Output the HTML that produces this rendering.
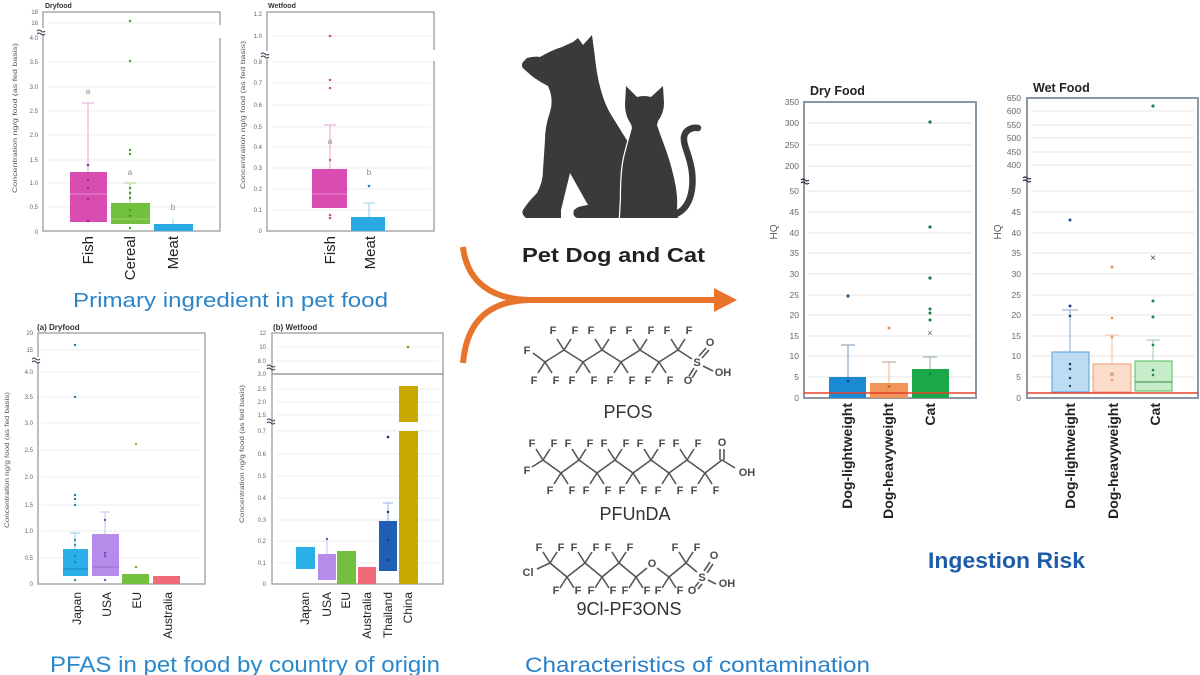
<!DOCTYPE html>
<html><head><meta charset="utf-8"><style>
html,body{margin:0;padding:0;background:#fff;width:1200px;height:675px;overflow:hidden}
svg{display:block}
text{font-family:"Liberation Sans",Arial,sans-serif}
</style></head><body>
<svg width="1200" height="675" viewBox="0 0 1200 675" xmlns="http://www.w3.org/2000/svg">
<rect width="1200" height="675" fill="#fff"/>

<!-- ============ TOP-LEFT: Dryfood ============ -->
<g>
<text x="45" y="8" font-size="7" font-weight="bold" fill="#333">Dryfood</text>
<g stroke="#eeeeee" stroke-width="1">
<line x1="48" y1="23" x2="216" y2="23"/><line x1="48" y1="62" x2="216" y2="62"/><line x1="48" y1="87" x2="216" y2="87"/><line x1="48" y1="111" x2="216" y2="111"/><line x1="48" y1="135" x2="216" y2="135"/><line x1="48" y1="160" x2="216" y2="160"/><line x1="48" y1="183" x2="216" y2="183"/><line x1="48" y1="207" x2="216" y2="207"/>
</g>
<rect x="43" y="12" width="177" height="219" fill="none" stroke="#a9a9a9" stroke-width="1.5"/>
<rect x="40" y="28" width="6" height="6" fill="#fff"/><rect x="217" y="25" width="6" height="13" fill="#fff"/>
<path d="M37,31 q2,-2 4,0 t4,0 M37,34 q2,-2 4,0 t4,0" stroke="#335" stroke-width="1" fill="none"/>
<g font-size="6" fill="#666" text-anchor="end">
<text x="38" y="14">18</text><text x="38" y="25">16</text><text x="38" y="40">4.0</text><text x="38" y="64">3.5</text><text x="38" y="89">3.0</text><text x="38" y="113">2.5</text><text x="38" y="137">2.0</text><text x="38" y="162">1.5</text><text x="38" y="185">1.0</text><text x="38" y="209">0.5</text><text x="38" y="234">0</text>
</g>
<text transform="translate(17,118) rotate(-90)" text-anchor="middle" font-size="6.5" fill="#555" textLength="150" lengthAdjust="spacingAndGlyphs">Concentration ng/g food (as fed basis)</text>
<line x1="88" y1="103" x2="88" y2="172" stroke="#e4a6d2" stroke-width="1"/><line x1="82" y1="103" x2="94" y2="103" stroke="#e4a6d2"/>
<rect x="70" y="172" width="37" height="50" fill="#d94cb2"/>
<line x1="70" y1="194" x2="107" y2="194" stroke="#e88cd0" stroke-width="1"/>
<g fill="#a02c84"><circle cx="88" cy="165" r="1.3"/><circle cx="88" cy="180" r="1.3"/><circle cx="88" cy="188" r="1.3"/><circle cx="88" cy="199" r="1.3"/><circle cx="88" cy="221" r="1.3"/></g>
<text x="88" y="94" font-size="8" fill="#888" text-anchor="middle">a</text>
<line x1="130" y1="183" x2="130" y2="203" stroke="#a6d58a"/><line x1="124" y1="183" x2="136" y2="183" stroke="#a6d58a"/>
<rect x="111" y="203" width="39" height="21" fill="#73bf3e"/>
<line x1="111" y1="219" x2="150" y2="219" stroke="#9ad36e"/>
<g fill="#3d9a2e"><circle cx="130" cy="21" r="1.2"/><circle cx="130" cy="61" r="1.2"/><circle cx="130" cy="150" r="1.2"/><circle cx="130" cy="154" r="1.2"/><circle cx="130" cy="188" r="1.2"/><circle cx="130" cy="193" r="1.2"/><circle cx="130" cy="198" r="1.2"/><circle cx="130" cy="210" r="1.2"/><circle cx="130" cy="216" r="1.2"/><circle cx="130" cy="228" r="1.2"/></g>
<text x="130" y="175" font-size="8" fill="#888" text-anchor="middle">a</text>
<line x1="173" y1="219" x2="173" y2="224" stroke="#8cd0f0"/>
<rect x="154" y="224" width="39" height="7" fill="#2aa8e2"/>
<text x="173" y="210" font-size="8" fill="#888" text-anchor="middle">b</text>
<g font-size="15" fill="#222">
<text transform="translate(93,236) rotate(-90)" text-anchor="end">Fish</text>
<text transform="translate(135,236) rotate(-90)" text-anchor="end">Cereal</text>
<text transform="translate(178,236) rotate(-90)" text-anchor="end">Meat</text>
</g>
</g>

<!-- ============ TOP: Wetfood ============ -->
<g>
<text x="268" y="8" font-size="7" font-weight="bold" fill="#333">Wetfood</text>
<g stroke="#eeeeee" stroke-width="1">
<line x1="272" y1="36" x2="430" y2="36"/><line x1="272" y1="62" x2="430" y2="62"/><line x1="272" y1="83" x2="430" y2="83"/><line x1="272" y1="105" x2="430" y2="105"/><line x1="272" y1="127" x2="430" y2="127"/><line x1="272" y1="147" x2="430" y2="147"/><line x1="272" y1="168" x2="430" y2="168"/><line x1="272" y1="189" x2="430" y2="189"/><line x1="272" y1="210" x2="430" y2="210"/>
</g>
<rect x="267" y="12" width="167" height="219" fill="none" stroke="#a9a9a9" stroke-width="1.5"/>
<rect x="264" y="51" width="6" height="8" fill="#fff"/><rect x="431" y="50" width="6" height="11" fill="#fff"/>
<path d="M261,54 q2,-2 4,0 t4,0 M261,57 q2,-2 4,0 t4,0" stroke="#335" stroke-width="1" fill="none"/>
<g font-size="6" fill="#666" text-anchor="end">
<text x="262" y="16">1.2</text><text x="262" y="38">1.0</text><text x="262" y="64">0.8</text><text x="262" y="85">0.7</text><text x="262" y="107">0.6</text><text x="262" y="129">0.5</text><text x="262" y="149">0.4</text><text x="262" y="170">0.3</text><text x="262" y="191">0.2</text><text x="262" y="212">0.1</text><text x="262" y="233">0</text>
</g>
<text transform="translate(245,115) rotate(-90)" text-anchor="middle" font-size="6.5" fill="#555" textLength="148" lengthAdjust="spacingAndGlyphs">Concentration ng/g food (as fed basis)</text>
<line x1="330" y1="125" x2="330" y2="169" stroke="#e4a6d2"/><line x1="324" y1="125" x2="336" y2="125" stroke="#e4a6d2"/>
<rect x="312" y="169" width="35" height="39" fill="#d94cb2"/>
<line x1="312" y1="194" x2="347" y2="194" stroke="#e88cd0"/>
<g fill="#d04aa6"><circle cx="330" cy="36" r="1.3"/><circle cx="330" cy="80" r="1.3"/><circle cx="330" cy="88" r="1.3"/><circle cx="330" cy="160" r="1.2"/><circle cx="330" cy="215" r="1.3"/><circle cx="330" cy="218" r="1.3"/></g>
<text x="330" y="144" font-size="8" fill="#888" text-anchor="middle">a</text>
<line x1="369" y1="203" x2="369" y2="217" stroke="#8cd0f0"/><line x1="363" y1="203" x2="375" y2="203" stroke="#8cd0f0"/>
<rect x="351" y="217" width="34" height="14" fill="#2aa8e2"/>
<circle cx="369" cy="186" r="1.3" fill="#1a7fb0"/>
<text x="369" y="175" font-size="8" fill="#888" text-anchor="middle">b</text>
<g font-size="15" fill="#222">
<text transform="translate(335,236) rotate(-90)" text-anchor="end">Fish</text>
<text transform="translate(375,236) rotate(-90)" text-anchor="end">Meat</text>
</g>
</g>

<text x="73" y="307" font-size="20" fill="#2d84c6" textLength="315" lengthAdjust="spacingAndGlyphs">Primary ingredient in pet food</text>

<!-- ============ BOTTOM-LEFT (a) Dryfood ============ -->
<g>
<text x="37" y="330" font-size="8" font-weight="bold" fill="#333">(a) Dryfood</text>
<g stroke="#eeeeee" stroke-width="1">
<line x1="42" y1="350" x2="200" y2="350"/><line x1="42" y1="372" x2="200" y2="372"/><line x1="42" y1="397" x2="200" y2="397"/><line x1="42" y1="423" x2="200" y2="423"/><line x1="42" y1="450" x2="200" y2="450"/><line x1="42" y1="477" x2="200" y2="477"/><line x1="42" y1="505" x2="200" y2="505"/><line x1="42" y1="531" x2="200" y2="531"/><line x1="42" y1="558" x2="200" y2="558"/>
</g>
<rect x="38" y="333" width="167" height="251" fill="none" stroke="#a9a9a9" stroke-width="1.5"/>
<rect x="35" y="357" width="6" height="6" fill="#fff"/>
<path d="M32,359 q2,-2 4,0 t4,0 M32,362 q2,-2 4,0 t4,0" stroke="#335" stroke-width="1" fill="none"/>
<g font-size="6" fill="#666" text-anchor="end">
<text x="33" y="335">20</text><text x="33" y="352">15</text><text x="33" y="374">4.0</text><text x="33" y="399">3.5</text><text x="33" y="425">3.0</text><text x="33" y="452">2.5</text><text x="33" y="479">2.0</text><text x="33" y="507">1.5</text><text x="33" y="533">1.0</text><text x="33" y="560">0.5</text><text x="33" y="586">0</text>
</g>
<text transform="translate(9,460) rotate(-90)" text-anchor="middle" font-size="6.5" fill="#555" textLength="136" lengthAdjust="spacingAndGlyphs">Concentration ng/g food (as fed basis)</text>
<line x1="75" y1="533" x2="75" y2="549" stroke="#8cd0f0"/><line x1="70" y1="533" x2="80" y2="533" stroke="#8cd0f0"/>
<rect x="63" y="549" width="25" height="27" fill="#2ab0e8"/>
<line x1="63" y1="569" x2="88" y2="569" stroke="#1b86c0"/>
<g fill="#1a7ab0"><circle cx="75" cy="345" r="1.2"/><circle cx="75" cy="397" r="1.2"/><circle cx="75" cy="495" r="1.2"/><circle cx="75" cy="499" r="1.2"/><circle cx="75" cy="505" r="1.2"/><circle cx="75" cy="540" r="1.1"/><circle cx="75" cy="545" r="1.1"/><circle cx="75" cy="556" r="1.1"/><circle cx="75" cy="562" r="1.1"/><circle cx="75" cy="580" r="1.1"/></g>
<line x1="105" y1="512" x2="105" y2="534" stroke="#d2b8f0"/><line x1="100" y1="512" x2="110" y2="512" stroke="#d2b8f0"/>
<rect x="92" y="534" width="27" height="42" fill="#b68bea"/>
<line x1="92" y1="567" x2="119" y2="567" stroke="#9a6cd4"/>
<g fill="#7a4abc"><circle cx="105" cy="520" r="1.2"/><circle cx="105" cy="553" r="1.3"/><circle cx="105" cy="556" r="1.2"/><circle cx="105" cy="580" r="1.2"/></g>
<rect x="122" y="574" width="27" height="10" fill="#73bf3e"/>
<circle cx="136" cy="444" r="1.2" fill="#8ab828"/><circle cx="136" cy="567" r="1.2" fill="#6aa830"/>
<rect x="153" y="576" width="27" height="8" fill="#f06a7a"/>
<g font-size="12" fill="#222">
<text transform="translate(81,592) rotate(-90)" text-anchor="end">Japan</text>
<text transform="translate(111,592) rotate(-90)" text-anchor="end">USA</text>
<text transform="translate(141,592) rotate(-90)" text-anchor="end">EU</text>
<text transform="translate(172,592) rotate(-90)" text-anchor="end">Australia</text>
</g>
</g>

<!-- ============ BOTTOM (b) Wetfood ============ -->
<g>
<text x="273" y="330" font-size="8" font-weight="bold" fill="#333">(b) Wetfood</text>
<g stroke="#eeeeee" stroke-width="1">
<line x1="276" y1="347" x2="439" y2="347"/><line x1="276" y1="361" x2="439" y2="361"/><line x1="276" y1="389" x2="439" y2="389"/><line x1="276" y1="402" x2="439" y2="402"/><line x1="276" y1="415" x2="439" y2="415"/><line x1="276" y1="431" x2="439" y2="431"/><line x1="276" y1="454" x2="439" y2="454"/><line x1="276" y1="476" x2="439" y2="476"/><line x1="276" y1="498" x2="439" y2="498"/><line x1="276" y1="520" x2="439" y2="520"/><line x1="276" y1="541" x2="439" y2="541"/><line x1="276" y1="563" x2="439" y2="563"/>
</g>
<rect x="272" y="333" width="171" height="251" fill="none" stroke="#a9a9a9" stroke-width="1.5"/>
<line x1="272" y1="374" x2="443" y2="374" stroke="#888" stroke-width="1.2"/>
<path d="M267,366 q2,-2 4,0 t4,0 M267,369 q2,-2 4,0 t4,0 M267,420 q2,-2 4,0 t4,0 M267,423 q2,-2 4,0 t4,0" stroke="#335" stroke-width="1" fill="none"/>
<g font-size="6" fill="#666" text-anchor="end">
<text x="266" y="335">12</text><text x="266" y="349">10</text><text x="266" y="363">8.0</text><text x="266" y="376">3.0</text><text x="266" y="391">2.5</text><text x="266" y="404">2.0</text><text x="266" y="417">1.5</text><text x="266" y="433">0.7</text><text x="266" y="456">0.6</text><text x="266" y="478">0.5</text><text x="266" y="500">0.4</text><text x="266" y="522">0.3</text><text x="266" y="543">0.2</text><text x="266" y="565">0.1</text><text x="266" y="586">0</text>
</g>
<text transform="translate(244,454) rotate(-90)" text-anchor="middle" font-size="6.5" fill="#555" textLength="138" lengthAdjust="spacingAndGlyphs">Concentration ng/g food (as fed basis)</text>
<rect x="296" y="547" width="19" height="22" fill="#2ab0e8"/>
<line x1="327" y1="539" x2="327" y2="554" stroke="#d2b8f0"/>
<rect x="318" y="554" width="18" height="26" fill="#b68bea"/>
<circle cx="327" cy="539" r="1.2" fill="#7a4abc"/>
<rect x="337" y="551" width="19" height="33" fill="#73bf3e"/>
<rect x="358" y="567" width="18" height="17" fill="#f06a7a"/>
<line x1="388" y1="503" x2="388" y2="521" stroke="#90b0e0"/><line x1="383" y1="503" x2="393" y2="503" stroke="#90b0e0"/>
<rect x="379" y="521" width="18" height="50" fill="#1f5fb8"/>
<g fill="#0e2e70"><circle cx="388" cy="437" r="1.3"/><circle cx="388" cy="512" r="1.2"/><circle cx="388" cy="540" r="1"/><circle cx="388" cy="560" r="1"/></g>
<rect x="399" y="386" width="19" height="36" fill="#c9a800"/>
<rect x="399" y="431" width="19" height="153" fill="#c9a800"/>
<circle cx="408" cy="347" r="1.3" fill="#9a8a00"/>
<g font-size="12" fill="#222">
<text transform="translate(309,592) rotate(-90)" text-anchor="end">Japan</text>
<text transform="translate(331,592) rotate(-90)" text-anchor="end">USA</text>
<text transform="translate(350,592) rotate(-90)" text-anchor="end">EU</text>
<text transform="translate(371,592) rotate(-90)" text-anchor="end">Australia</text>
<text transform="translate(392,592) rotate(-90)" text-anchor="end">Thailand</text>
<text transform="translate(412,592) rotate(-90)" text-anchor="end">China</text>
</g>
</g>

<text x="50" y="672" font-size="22" fill="#2a88cc" textLength="390" lengthAdjust="spacingAndGlyphs">PFAS in pet food by country of origin</text>

<!-- ============ CENTER: dog and cat ============ -->
<g fill="#3a3a3a">
<path d="M523,62 L527,58 Q535,56 540,57 Q552,50 562,47 L573,42 L578,38 L583,45 L592,35 L594,50 Q595,58 596,66 Q600,95 610,113 Q618,126 628,142 L632,218 L577,218 Q572,216 574,210 Q578,206 588,205 L570,173 L561,210 L561,218 L526,218 Q521,214 523,210 Q528,202 537,193 Q543,182 543,170 L545,140 Q545,126 550,112 Q554,99 548,86 Q540,82 533,77 L525,70 Q520,66 523,62 Z"/>
<path d="M626,86 L637,97 Q644,95 651,97 L663,86 L664,103 Q664,113 658,121 L657,125 Q660,134 663,142 Q670,160 674,178 Q678,195 677,208 L678,218 L620,218 L621,200 Q621,172 624,158 Q628,142 632,128 L631,124 Q625,116 625,104 Z" stroke="#fff" stroke-width="2.5"/>
<path d="M626,86 L637,97 Q644,95 651,97 L663,86 L664,103 Q664,113 658,121 L657,125 Q660,134 663,142 Q670,160 674,178 Q678,195 677,208 L678,218 L620,218 L621,200 Q621,172 624,158 Q628,142 632,128 L631,124 Q625,116 625,104 Z"/>
<path d="M676,214 C690,208 694,190 692,172 C690,155 683,146 684,137 C685,130 692,127 698,128" fill="none" stroke="#3a3a3a" stroke-width="6.5" stroke-linecap="round"/>
</g>
<text x="522" y="262" font-size="20" font-weight="bold" fill="#222" textLength="183" lengthAdjust="spacingAndGlyphs">Pet Dog and Cat</text>

<!-- arrow -->
<g stroke="#e8742c" stroke-width="6" fill="none">
<path d="M463,247 C467,282 492,300 532,300 L718,300"/>
<path d="M463,363 C467,318 492,300 532,300"/>
</g>
<polygon points="714,288 737,300 714,312" fill="#e8742c"/>

<!-- ============ Molecules ============ -->
<g stroke="#555" stroke-width="1.6" fill="none" stroke-linejoin="round">
<polyline points="533,353 545,362 564,350 583,362 602,350 621,362 640,350 659,362 678,350 692,359"/>
<path d="M564,350 l-7,-11 M564,350 l7,-11 M602,350 l-7,-11 M602,350 l7,-11 M640,350 l-7,-11 M640,350 l7,-11 M678,350 l-7,-11 M678,350 l7,-11"/>
<path d="M545,362 l-7,11 M545,362 l7,11 M583,362 l-7,11 M583,362 l7,11 M621,362 l-7,11 M621,362 l7,11 M659,362 l-7,11 M659,362 l7,11"/>
<path d="M699,356 L706,348 M702,358 L709,350 M694,368 L689,376 M697,370 L692,378 M703,366 L713,371"/>
<polyline points="532,467 543,460 561,473 579,460 597,473 615,460 633,473 651,460 669,473 687,460 705,473 722,460 735,468"/>
<path d="M543,460 l-7,-11 M543,460 l7,-11 M579,460 l-7,-11 M579,460 l7,-11 M615,460 l-7,-11 M615,460 l7,-11 M651,460 l-7,-11 M651,460 l7,-11 M687,460 l-7,-11 M687,460 l7,-11"/>
<path d="M561,473 l-7,11 M561,473 l7,11 M597,473 l-7,11 M597,473 l7,11 M633,473 l-7,11 M633,473 l7,11 M669,473 l-7,11 M669,473 l7,11 M705,473 l-7,11 M705,473 l7,11"/>
<path d="M720,460 L720,449 M724,460 L724,449"/>
<polyline points="537,569 550,563 567,577 585,563 602,577 619,563 636,577 647,568"/>
<polyline points="657,568 669,577 686,563 697,572"/>
<path d="M550,563 l-7,-11 M550,563 l7,-11 M585,563 l-7,-11 M585,563 l7,-11 M619,563 l-7,-11 M619,563 l7,-11 M686,563 l-7,-11 M686,563 l7,-11"/>
<path d="M567,577 l-7,11 M567,577 l7,11 M602,577 l-7,11 M602,577 l7,11 M636,577 l-7,11 M636,577 l7,11 M669,577 l-7,11 M669,577 l7,11"/>
<path d="M704,571 L710,562 M707,573 L713,564 M699,582 L695,587 M702,584 L698,589 M708,580 L716,584"/>
</g>
<g font-size="11" font-weight="bold" fill="#4a4a4a" text-anchor="middle">
<text x="527" y="354">F</text>
<text x="553" y="334">F</text><text x="575" y="334">F</text><text x="591" y="334">F</text><text x="613" y="334">F</text><text x="629" y="334">F</text><text x="651" y="334">F</text><text x="667" y="334">F</text><text x="689" y="334">F</text>
<text x="534" y="384">F</text><text x="556" y="384">F</text><text x="572" y="384">F</text><text x="594" y="384">F</text><text x="610" y="384">F</text><text x="632" y="384">F</text><text x="648" y="384">F</text><text x="670" y="384">F</text>
<text x="697" y="366">S</text><text x="710" y="346">O</text><text x="688" y="384">O</text><text x="723" y="376">OH</text>
<text x="527" y="474">F</text>
<text x="532" y="447">F</text><text x="554" y="447">F</text><text x="568" y="447">F</text><text x="590" y="447">F</text><text x="604" y="447">F</text><text x="626" y="447">F</text><text x="640" y="447">F</text><text x="662" y="447">F</text><text x="676" y="447">F</text><text x="698" y="447">F</text>
<text x="550" y="494">F</text><text x="572" y="494">F</text><text x="586" y="494">F</text><text x="608" y="494">F</text><text x="622" y="494">F</text><text x="644" y="494">F</text><text x="658" y="494">F</text><text x="680" y="494">F</text><text x="694" y="494">F</text><text x="716" y="494">F</text>
<text x="722" y="446">O</text><text x="747" y="476">OH</text>
<text x="528" y="576">Cl</text>
<text x="539" y="551">F</text><text x="561" y="551">F</text><text x="574" y="551">F</text><text x="596" y="551">F</text><text x="608" y="551">F</text><text x="630" y="551">F</text><text x="675" y="551">F</text><text x="697" y="551">F</text>
<text x="556" y="594">F</text><text x="578" y="594">F</text><text x="591" y="594">F</text><text x="613" y="594">F</text><text x="625" y="594">F</text><text x="647" y="594">F</text><text x="658" y="594">F</text><text x="680" y="594">F</text>
<text x="652" y="567">O</text><text x="702" y="581">S</text><text x="714" y="559">O</text><text x="692" y="594">O</text><text x="727" y="587">OH</text>
</g>
<g font-size="18" fill="#333" text-anchor="middle">
<text x="628" y="418">PFOS</text>
<text x="635" y="520">PFUnDA</text>
<text x="629" y="615">9Cl-PF3ONS</text>
</g>
<text x="525" y="672" font-size="21" fill="#2a7fc8" textLength="345" lengthAdjust="spacingAndGlyphs">Characteristics of contamination</text>

<!-- ============ RIGHT: Dry Food HQ ============ -->
<g>
<text x="810" y="95" font-size="12.5" font-weight="bold" fill="#222">Dry Food</text>
<g stroke="#e6e6e6" stroke-width="1">
<line x1="808" y1="123" x2="972" y2="123"/><line x1="808" y1="145" x2="972" y2="145"/><line x1="808" y1="166" x2="972" y2="166"/><line x1="808" y1="191" x2="972" y2="191"/><line x1="808" y1="212" x2="972" y2="212"/><line x1="808" y1="233" x2="972" y2="233"/><line x1="808" y1="253" x2="972" y2="253"/><line x1="808" y1="274" x2="972" y2="274"/><line x1="808" y1="295" x2="972" y2="295"/><line x1="808" y1="315" x2="972" y2="315"/><line x1="808" y1="336" x2="972" y2="336"/><line x1="808" y1="356" x2="972" y2="356"/><line x1="808" y1="377" x2="972" y2="377"/>
</g>
<rect x="804" y="102" width="172" height="296" fill="none" stroke="#8a97a4" stroke-width="2"/>
<g font-size="8.5" fill="#666" text-anchor="end">
<text x="799" y="105">350</text><text x="799" y="126">300</text><text x="799" y="148">250</text><text x="799" y="169">200</text><text x="799" y="194">50</text><text x="799" y="215">45</text><text x="799" y="236">40</text><text x="799" y="256">35</text><text x="799" y="277">30</text><text x="799" y="298">25</text><text x="799" y="318">20</text><text x="799" y="339">15</text><text x="799" y="359">10</text><text x="799" y="380">5</text><text x="799" y="401">0</text>
</g>
<path d="M801,180 q2,-2 4,0 t4,0 M801,183 q2,-2 4,0 t4,0" stroke="#223" stroke-width="1.1" fill="none"/>
<text transform="translate(777,232) rotate(-90)" text-anchor="middle" font-size="10" fill="#555">HQ</text>
<line x1="848" y1="345" x2="848" y2="377" stroke="#7a9ab8"/><line x1="841" y1="345" x2="855" y2="345" stroke="#7a9ab8"/>
<rect x="829" y="377" width="37" height="21" fill="#1a8ad4"/>
<circle cx="848" cy="296" r="1.6" fill="#1a5a90"/><circle cx="848" cy="381" r="1.4" fill="#104a80"/>
<line x1="889" y1="362" x2="889" y2="383" stroke="#f0b090"/><line x1="882" y1="362" x2="896" y2="362" stroke="#b0a090"/>
<rect x="870" y="383" width="38" height="15" fill="#f2955c"/>
<circle cx="889" cy="328" r="1.5" fill="#f08a50"/><text x="889" y="389" font-size="7" fill="#8a4a20" text-anchor="middle">×</text>
<line x1="930" y1="357" x2="930" y2="369" stroke="#8ab0a0"/><line x1="923" y1="357" x2="937" y2="357" stroke="#8ab0a0"/>
<rect x="912" y="369" width="37" height="29" fill="#1ba84a"/>
<g fill="#1a7a3a"><circle cx="930" cy="122" r="1.6"/><circle cx="930" cy="227" r="1.6"/><circle cx="930" cy="278" r="1.6"/><circle cx="930" cy="309" r="1.5"/><circle cx="930" cy="313" r="1.5"/><circle cx="930" cy="320" r="1.5"/><circle cx="930" cy="374" r="1.3"/></g>
<text x="930" y="336" font-size="9" fill="#557" text-anchor="middle">×</text>
<line x1="804" y1="393" x2="976" y2="393" stroke="#e8402a" stroke-width="1.6"/>
<g font-size="14" font-weight="bold" fill="#222">
<text transform="translate(852,403) rotate(-90)" text-anchor="end">Dog-lightweight</text>
<text transform="translate(893,403) rotate(-90)" text-anchor="end">Dog-heavyweight</text>
<text transform="translate(935,403) rotate(-90)" text-anchor="end">Cat</text>
</g>
</g>

<!-- ============ RIGHT: Wet Food HQ ============ -->
<g>
<text x="1033" y="92" font-size="12.5" font-weight="bold" fill="#222">Wet Food</text>
<g stroke="#e6e6e6" stroke-width="1">
<line x1="1031" y1="111" x2="1194" y2="111"/><line x1="1031" y1="125" x2="1194" y2="125"/><line x1="1031" y1="138" x2="1194" y2="138"/><line x1="1031" y1="152" x2="1194" y2="152"/><line x1="1031" y1="165" x2="1194" y2="165"/><line x1="1031" y1="191" x2="1194" y2="191"/><line x1="1031" y1="212" x2="1194" y2="212"/><line x1="1031" y1="233" x2="1194" y2="233"/><line x1="1031" y1="253" x2="1194" y2="253"/><line x1="1031" y1="274" x2="1194" y2="274"/><line x1="1031" y1="295" x2="1194" y2="295"/><line x1="1031" y1="315" x2="1194" y2="315"/><line x1="1031" y1="336" x2="1194" y2="336"/><line x1="1031" y1="356" x2="1194" y2="356"/><line x1="1031" y1="377" x2="1194" y2="377"/>
</g>
<rect x="1027" y="98" width="171" height="300" fill="none" stroke="#8a97a4" stroke-width="2"/>
<g font-size="8.5" fill="#666" text-anchor="end">
<text x="1021" y="101">650</text><text x="1021" y="114">600</text><text x="1021" y="128">550</text><text x="1021" y="141">500</text><text x="1021" y="155">450</text><text x="1021" y="168">400</text><text x="1021" y="194">50</text><text x="1021" y="215">45</text><text x="1021" y="236">40</text><text x="1021" y="256">35</text><text x="1021" y="277">30</text><text x="1021" y="298">25</text><text x="1021" y="318">20</text><text x="1021" y="339">15</text><text x="1021" y="359">10</text><text x="1021" y="380">5</text><text x="1021" y="401">0</text>
</g>
<path d="M1023,178 q2,-2 4,0 t4,0 M1023,181 q2,-2 4,0 t4,0" stroke="#223" stroke-width="1.1" fill="none"/>
<text transform="translate(1001,232) rotate(-90)" text-anchor="middle" font-size="10" fill="#555">HQ</text>
<line x1="1070" y1="310" x2="1070" y2="352" stroke="#8aa8c8"/><line x1="1062" y1="310" x2="1078" y2="310" stroke="#8aa8c8"/>
<rect x="1052" y="352" width="37" height="40" fill="#bcdcf4" stroke="#6aaee0" stroke-width="1.2"/>
<g fill="#1a4a80"><circle cx="1070" cy="220" r="1.5"/><circle cx="1070" cy="306" r="1.5"/><circle cx="1070" cy="316" r="1.3"/><circle cx="1070" cy="364" r="1.3"/><circle cx="1070" cy="369" r="1.3"/><circle cx="1070" cy="378" r="1.3"/><circle cx="1070" cy="386" r="1.2"/></g>
<line x1="1112" y1="335" x2="1112" y2="364" stroke="#f4c0a0"/><line x1="1105" y1="335" x2="1119" y2="335" stroke="#f4c0a0"/>
<rect x="1093" y="364" width="38" height="28" fill="#fbdccb" stroke="#f2aa80" stroke-width="1.2"/>
<g fill="#f0955a"><circle cx="1112" cy="267" r="1.5"/><circle cx="1112" cy="318" r="1.4"/><circle cx="1112" cy="337" r="1.3"/><circle cx="1112" cy="380" r="1.3"/></g>
<text x="1112" y="377" font-size="8" fill="#a05030" text-anchor="middle">×</text>
<line x1="1153" y1="340" x2="1153" y2="361" stroke="#98c8a0"/><line x1="1146" y1="340" x2="1160" y2="340" stroke="#98c8a0"/>
<rect x="1135" y="361" width="37" height="30" fill="#c6ecca" stroke="#6cc47a" stroke-width="1.2"/>
<line x1="1135" y1="382" x2="1172" y2="382" stroke="#4aa060" stroke-width="1.2"/>
<g fill="#1a8a4a"><circle cx="1153" cy="106" r="1.6"/><circle cx="1153" cy="301" r="1.5"/><circle cx="1153" cy="317" r="1.5"/><circle cx="1153" cy="345" r="1.4"/><circle cx="1153" cy="370" r="1.3"/><circle cx="1153" cy="375" r="1.3"/></g>
<text x="1153" y="261" font-size="10" fill="#446" text-anchor="middle">×</text>
<line x1="1027" y1="393" x2="1198" y2="393" stroke="#e8402a" stroke-width="1.6"/>
<g font-size="14" font-weight="bold" fill="#222">
<text transform="translate(1075,403) rotate(-90)" text-anchor="end">Dog-lightweight</text>
<text transform="translate(1118,403) rotate(-90)" text-anchor="end">Dog-heavyweight</text>
<text transform="translate(1160,403) rotate(-90)" text-anchor="end">Cat</text>
</g>
</g>

<text x="928" y="568" font-size="22" font-weight="bold" fill="#1f5ca8" textLength="157" lengthAdjust="spacingAndGlyphs">Ingestion Risk</text>
</svg>
</body></html>
